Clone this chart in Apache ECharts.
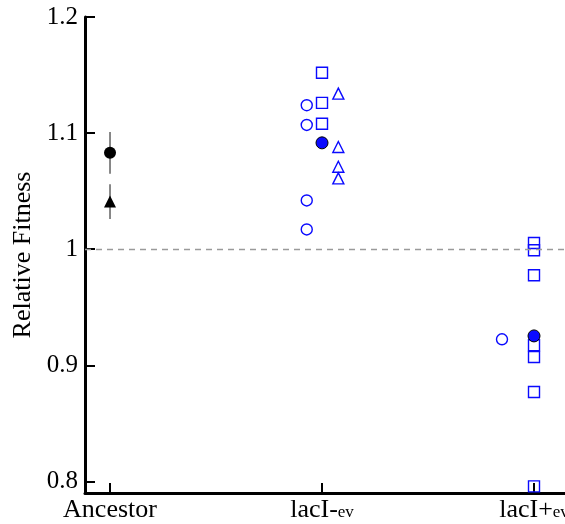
<!DOCTYPE html>
<html>
<head>
<meta charset="utf-8">
<script src="https://cdn.jsdelivr.net/npm/echarts@6/dist/echarts.min.js"></script>
<style>html,body{margin:0;padding:0;background:#fff}#c{width:565px;height:524px}</style>
</head>
<body>
<div id="c"></div>
<script>
// ---- data ----
const categories = ['Ancestor', 'lacI-', 'lacI+'];
const categorySubscripts = ['', 'ev', 'ev'];
const yTicks = [0.8, 0.9, 1, 1.1, 1.2];

// Ancestor: mean +/- error for two assays (circle, triangle)
const ancestorCircle = [1.083];
const ancestorCircleErr = [0.018];
const ancestorTriangle = [1.041];
const ancestorTriangleErr = [0.015];

// lacI-ev individual clones and mean
const lacIminusCircles = [1.124, 1.107, 1.042, 1.017];
const lacIminusSquares = [1.152, 1.126, 1.108];
const lacIminusTriangles = [1.134, 1.088, 1.071, 1.061];
const lacIminusMean = [1.0916];

// lacI+ev individual clones and mean
const lacIplusCircles = [0.9224];
const lacIplusSquares = [1.0054, 0.9991, 0.9776, 0.9172, 0.9072, 0.877, 0.7957];
const lacIplusMean = [0.9253];

// horizontal jitter of each marker group around its category
const jitterCircle = -0.072, jitterSquare = 0, jitterTriangle = 0.077, jitterCirclePlus = -0.151;

const blue = '#0a0aff';
const font = "'Liberation Serif', 'Times New Roman', serif";

const pts = (cat, off, vals) => vals.map(v => [cat + off, v]);

const openStyle = { color: 'rgba(0,0,0,0)', borderColor: blue, borderWidth: 1.4, opacity: 1 };

const chart = echarts.init(document.getElementById('c'));
chart.setOption({
  animation: false,
  grid: { left: 85, top: 17, width: 502, height: 476, containLabel: false, outerBoundsMode: 'none' },
  xAxis: {
    type: 'value', min: -0.118, max: 2.25,
    splitLine: { show: false },
    axisLine: { onZero: false, lineStyle: { color: '#000', width: 3 } },
    axisTick: { inside: true, length: 10, lineStyle: { color: '#000', width: 2 }, customValues: [0, 1, 2] },
    axisLabel: {
      customValues: [0, 1, 2], margin: 4, hideOverlap: false,
      formatter: v => {
        const i = Math.round(v);
        return categorySubscripts[i] ? '{m|' + categories[i] + '}{s|' + categorySubscripts[i] + '}' : '{m|' + categories[i] + '}';
      },
      rich: {
        m: { fontFamily: font, fontSize: 26, color: '#000', padding: [0, 0, 5, 0] },
        s: { fontFamily: font, fontSize: 17, color: '#000' }
      }
    }
  },
  yAxis: {
    type: 'value', min: 0.79, max: 1.2,
    name: 'Relative Fitness', nameLocation: 'middle', nameGap: 49,
    nameTextStyle: { fontFamily: font, fontSize: 26, color: '#000' },
    splitLine: { show: false },
    axisLine: { onZero: false, lineStyle: { color: '#000', width: 3 } },
    axisTick: { inside: true, length: 10, lineStyle: { color: '#000', width: 2 }, customValues: yTicks },
    axisLabel: { customValues: yTicks, margin: 7, fontFamily: font, fontSize: 25, color: '#000',
      formatter: v => String(Math.round(v * 10) / 10) }
  },
  series: [
    {
      type: 'custom', z: 1,
      data: [[0, ancestorCircle[0], ancestorCircleErr[0]], [0, ancestorTriangle[0], ancestorTriangleErr[0]]],
      renderItem: (params, api) => {
        const x = api.value(0), y = api.value(1), e = api.value(2);
        const a = api.coord([x, y - e]), b = api.coord([x, y + e]);
        return { type: 'line', shape: { x1: a[0], y1: a[1], x2: b[0], y2: b[1] }, style: { stroke: '#6a6a6a', lineWidth: 1.6 } };
      }
    },
    {
      type: 'scatter', z: 3, symbol: 'circle', symbolSize: 12,
      itemStyle: { color: '#000', opacity: 1 },
      data: pts(0, 0, ancestorCircle),
      markLine: {
        silent: true, symbol: 'none', label: { show: false },
        lineStyle: { color: '#9a9a9a', type: [6, 5], width: 1.3 },
        data: [{ yAxis: 1 }]
      }
    },
    { type: 'scatter', z: 3, symbol: 'triangle', symbolSize: 12, itemStyle: { color: '#000', opacity: 1 }, data: pts(0, 0, ancestorTriangle) },
    { type: 'scatter', z: 2, symbol: 'circle', symbolSize: 11, itemStyle: openStyle, data: pts(1, jitterCircle, lacIminusCircles) },
    { type: 'scatter', z: 2, symbol: 'rect', symbolSize: 11, itemStyle: openStyle, data: pts(1, jitterSquare, lacIminusSquares) },
    { type: 'scatter', z: 2, symbol: 'triangle', symbolSize: 11, itemStyle: openStyle, data: pts(1, jitterTriangle, lacIminusTriangles) },
    { type: 'scatter', z: 2, symbol: 'circle', symbolSize: 11, itemStyle: openStyle, data: pts(2, jitterCirclePlus, lacIplusCircles) },
    { type: 'scatter', z: 2, symbol: 'rect', symbolSize: 11, itemStyle: openStyle, data: pts(2, jitterSquare, lacIplusSquares) },
    { type: 'scatter', z: 4, symbol: 'circle', symbolSize: 12, itemStyle: { color: blue, borderColor: '#000', borderWidth: 1, opacity: 1 },
      data: pts(1, 0, lacIminusMean).concat(pts(2, 0, lacIplusMean)) }
  ]
});
</script>
</body>
</html>
